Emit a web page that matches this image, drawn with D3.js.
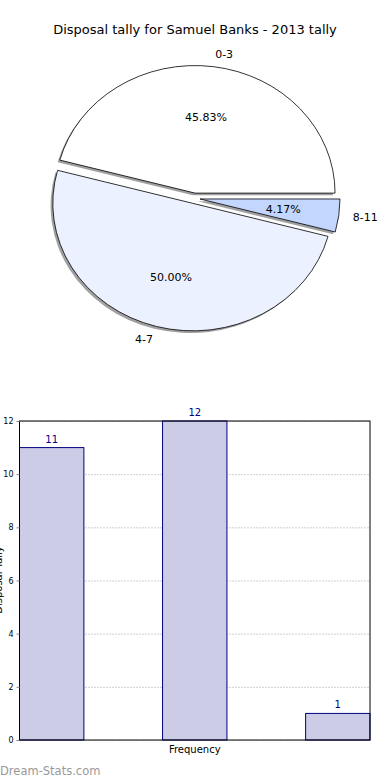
<!DOCTYPE html>
<html><head><meta charset="utf-8">
<script src="https://cdn.jsdelivr.net/npm/d3@7"></script>
<style>body{margin:0;background:#fff}svg{display:block}text{font-family:"DejaVu Sans",sans-serif}</style>
</head><body>
<script>
const title = "Disposal tally for Samuel Banks - 2013 tally";
const categories = ["0-3", "4-7", "8-11"];
const counts = [11, 12, 1];
const sliceColors = ["#ffffff", "#ebf1fe", "#c3d6fe"];
const yTicks = [0, 2, 4, 6, 8, 10, 12];
const xLabel = "Frequency";
const yLabel = "Disposal Tally";

const W = 390, H = 780;
const svg = d3.select("body").append("svg").attr("width", W).attr("height", H);

svg.append("text").attr("x", 195).attr("y", 34).attr("text-anchor", "middle")
  .attr("font-size", 13).attr("fill", "#000").text(title);

// Pie
const cx = 194.3, cy = 198.3, rx = 140, ry = 127.5, explode = 0.041;
const total = d3.sum(counts);
const pie = d3.pie().sort(null).startAngle(Math.PI / 2).endAngle(Math.PI / 2 - 2 * Math.PI);
const arcs = pie(counts);
const arc = d3.arc().innerRadius(0).outerRadius(1);
arcs.forEach(a => {
  const m = (a.startAngle + a.endAngle) / 2;
  a.dx = Math.sin(m); a.dy = -Math.cos(m);
  a.vx = cx + explode * rx * a.dx; a.vy = cy + explode * ry * a.dy;
});
const pg = svg.append("g");
pg.selectAll("path.sh").data(arcs).join("path").attr("class", "sh")
  .attr("transform", a => `translate(${a.vx - 2.2},${a.vy + 2.2}) scale(${rx},${ry})`)
  .attr("d", arc).attr("fill", "#808080").attr("fill-opacity", 0.75);
pg.selectAll("path.w").data(arcs).join("path").attr("class", "w")
  .attr("transform", a => `translate(${a.vx},${a.vy}) scale(${rx},${ry})`)
  .attr("d", arc).attr("fill", (a, i) => sliceColors[i])
  .attr("stroke", "#000").attr("stroke-width", 0.8).attr("vector-effect", "non-scaling-stroke");
pg.selectAll("text.lab").data(arcs).join("text").attr("class", "lab")
  .attr("x", a => a.vx + 1.1 * rx * a.dx).attr("y", a => a.vy + 1.1 * ry * a.dy)
  .attr("dy", "0.35em").attr("font-size", 11)
  .attr("text-anchor", a => a.dx > 0 ? "start" : "end")
  .text((a, i) => categories[i]);
pg.selectAll("text.pct").data(arcs).join("text").attr("class", "pct")
  .attr("x", a => a.vx + 0.6 * rx * a.dx).attr("y", a => a.vy + 0.6 * ry * a.dy)
  .attr("dy", "0.35em").attr("font-size", 11).attr("text-anchor", "middle")
  .text(a => (a.value / total * 100).toFixed(2) + "%");

// Bar chart
const L = 19.5, R = 370, T = 421, B = 740;
const x = d3.scaleLinear().domain([0, 2.45]).range([L, R]);
const y = d3.scaleLinear().domain([0, 12]).range([B, T]);
const bg = svg.append("g");
bg.selectAll("line.grid").data(yTicks).join("line").attr("class", "grid")
  .attr("x1", L).attr("x2", R).attr("y1", d => y(d) + 0.5).attr("y2", d => y(d) + 0.5)
  .attr("stroke", "#a0a0a0").attr("stroke-width", 1).attr("stroke-dasharray", "1,2");
bg.selectAll("rect.bar").data(counts).join("rect").attr("class", "bar")
  .attr("x", (d, i) => x(i)).attr("width", (d, i) => x(i + 0.45) - x(i))
  .attr("y", d => y(d)).attr("height", d => y(0) - y(d))
  .attr("fill", "#ccccE6").attr("stroke", "#000080").attr("stroke-width", 1);
bg.selectAll("text.val").data(counts).join("text").attr("class", "val")
  .attr("x", (d, i) => x(i + 0.225)).attr("y", d => y(d) - 5)
  .attr("text-anchor", "middle").attr("font-size", 10).attr("fill", "#000080")
  .text(d => d);
bg.append("rect").attr("x", L).attr("y", T).attr("width", R - L).attr("height", B - T)
  .attr("fill", "none").attr("stroke", "#000").attr("stroke-width", 1);
const yAxis = d3.axisLeft(y).tickValues(yTicks).tickSize(3).tickPadding(3);
const ya = bg.append("g").attr("transform", `translate(${L},0)`).call(yAxis);
ya.select(".domain").remove();
ya.selectAll("text").attr("font-size", 8).attr("font-family", "DejaVu Sans").attr("fill", "#000");
ya.selectAll("line").attr("stroke", "#888");
bg.append("text").attr("transform", "translate(1.5,580) rotate(-90)").attr("text-anchor", "middle")
  .attr("font-size", 10).text(yLabel);
bg.append("text").attr("x", (L + R) / 2).attr("y", 753).attr("text-anchor", "middle")
  .attr("font-size", 10).text(xLabel);

svg.append("text").attr("x", 0).attr("y", 775).attr("font-size", 11.5)
  .attr("fill", "#999999").text("Dream-Stats.com");
</script>
</body></html>
